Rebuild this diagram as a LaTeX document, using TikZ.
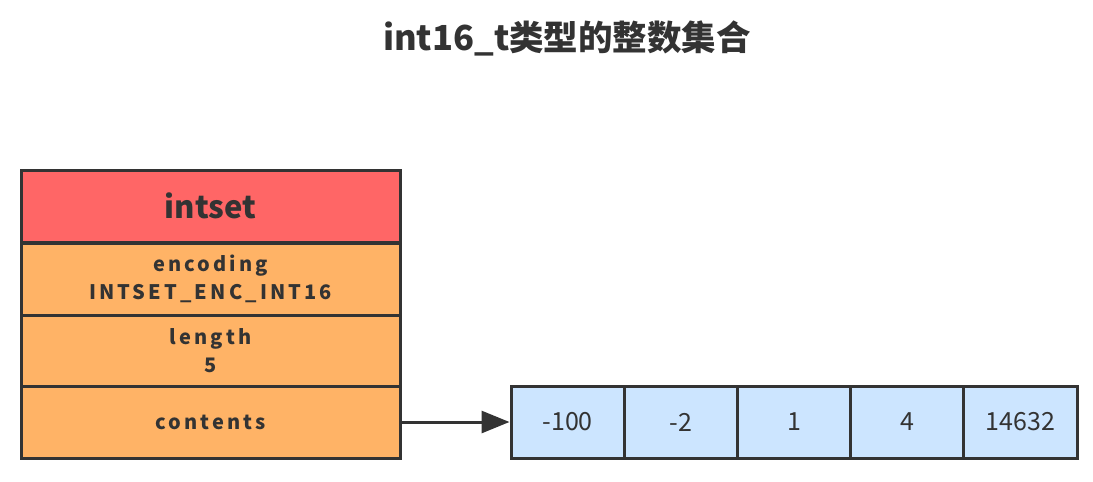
\documentclass[tikz,border=0pt]{standalone}
\usepackage{fontspec}
\setmainfont{Noto Sans CJK SC}
\usetikzlibrary{arrows.meta}
\definecolor{ink}{HTML}{333333}
\definecolor{headred}{HTML}{FF6666}
\definecolor{fieldorange}{HTML}{FFB366}
\definecolor{cellblue}{HTML}{CCE5FF}
\tikzset{
  rowbox/.style={draw=ink, line width=3pt, minimum width=379pt, minimum height=72pt, inner sep=0pt, align=center, text=ink},
  headrow/.style={rowbox, fill=headred, font=\fontsize{31}{36}\selectfont\bfseries},
  fieldrow/.style={rowbox, fill=fieldorange, font=\fontsize{20}{28}\selectfont\bfseries\addfontfeature{LetterSpace=15.5}},
  cellbox/.style={draw=ink, line width=3pt, minimum width=113.2pt, minimum height=72pt, inner sep=0pt, fill=cellblue, text=ink, font=\fontsize{25}{30}\selectfont},
  link/.style={draw=ink, line width=3pt, -{Triangle[length=28pt,width=22pt]}}
}
\begin{document}
\begin{tikzpicture}[x=1pt,y=-1pt]
\useasboundingbox (0,0) rectangle (1093,482);
\node[text=ink, font=\fontsize{34.5}{40}\selectfont\bfseries] (title) at (567,38) {int16\_t类型的整数集合};
\node[headrow] (head) at (210.5,206) {intset};
\node[fieldrow] (enc) at (210.5,279) {encoding\\INTSET\_ENC\_INT16};
\node[fieldrow] (len) at (210.5,351) {length\\5};
\node[fieldrow] (cont) at (210.5,422) {contents};
\node[cellbox] (c1) at (567.6,422) {-100};
\node[cellbox] (c2) at (680.8,422) {-2};
\node[cellbox] (c3) at (794.0,422) {1};
\node[cellbox] (c4) at (907.2,422) {4};
\node[cellbox] (c5) at (1020.4,422) {14632};
\draw[link] (cont.east) -- (c1.west);
\end{tikzpicture}
\end{document}
